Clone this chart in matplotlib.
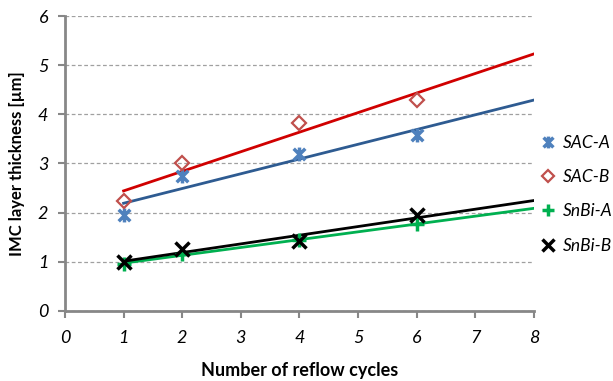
import numpy as np
import matplotlib
matplotlib.use('Agg')
import matplotlib.pyplot as plt
from matplotlib.lines import Line2D
from matplotlib.path import Path

plt.rcParams['font.family'] = ['Lato', 'DejaVu Sans']

# Reflow cycles and IMC thickness values (um)
cycles = [1, 2, 4, 6]
sac_a = [1.95, 2.74, 3.19, 3.58]
sac_b = [2.24, 3.00, 3.82, 4.29]
snbi_a = [0.96, 1.15, 1.44, 1.77]
snbi_b = [1.00, 1.26, 1.42, 1.95]
labels = ['SAC-A', 'SAC-B', 'SnBi-A', 'SnBi-B']

fit_range = [1, 8]

# Excel-like asterisk: an X with a vertical bar
star = Path([(-1, -1), (1, 1), (-1, 1), (1, -1), (0, -1.2), (0, 1.2)],
            [Path.MOVETO, Path.LINETO, Path.MOVETO, Path.LINETO, Path.MOVETO, Path.LINETO])

series = [
    (sac_a, '#4F81BD', '#2E5B91', star, 10, 2.5),
    (sac_b, '#C0504D', '#D00000', 'D', 7, 1.6),
    (snbi_a, '#00B050', '#00B050', '+', 10, 2.5),
    (snbi_b, '#000000', '#000000', 'x', 10, 2.5),
]

fig = plt.figure(figsize=(6.13, 3.81), dpi=100)
ax = fig.add_axes([0.106, 0.184, 0.765, 0.774])

handles = []
for (vals, mcol, lcol, mk, ms, mew), lab in zip(series, labels):
    slope, icpt = np.polyfit(cycles, vals, 1)
    xs = np.array(fit_range)
    ax.plot(xs, slope * xs + icpt, color=lcol, lw=2, zorder=2)
    ax.plot(cycles, vals, linestyle='none', marker=mk, ms=ms, mew=mew,
            mec=mcol, mfc='none', zorder=3)
    handles.append(Line2D([], [], linestyle='none', marker=mk, ms=ms * 0.85,
                          mew=mew, mec=mcol, mfc='none'))

ax.set_xlim(0, 8)
ax.set_ylim(0, 6)
ax.set_xticks(range(0, 9))
ax.set_yticks(range(0, 7))
ax.tick_params(axis='both', direction='out', length=5, width=1.5, color='#878787',
               labelsize=13)
for t in ax.get_xticklabels() + ax.get_yticklabels():
    t.set_fontstyle('italic')
ax.tick_params(axis='x', pad=9)
ax.tick_params(axis='y', pad=7)

ax.grid(axis='y', linestyle=(0, (3, 2)), color='#A0A0A0', lw=0.9)
ax.set_axisbelow(True)
for s in ['top', 'right']:
    ax.spines[s].set_visible(False)
for s in ['left', 'bottom']:
    ax.spines[s].set_color('#878787')
    ax.spines[s].set_linewidth(2)

ax.set_xlabel('Number of reflow cycles', fontsize=13, fontweight='bold', labelpad=11)
ax.set_ylabel('IMC layer thickness [µm]', fontsize=12, fontweight='bold', labelpad=9)

leg = fig.legend(handles, labels, loc='center left', bbox_to_anchor=(0.857, 0.49),
                 frameon=False, handlelength=0.8, handletextpad=0.45,
                 labelspacing=1.05, prop={'size': 12.5, 'style': 'italic'})

fig.savefig('out.png', dpi=100)
